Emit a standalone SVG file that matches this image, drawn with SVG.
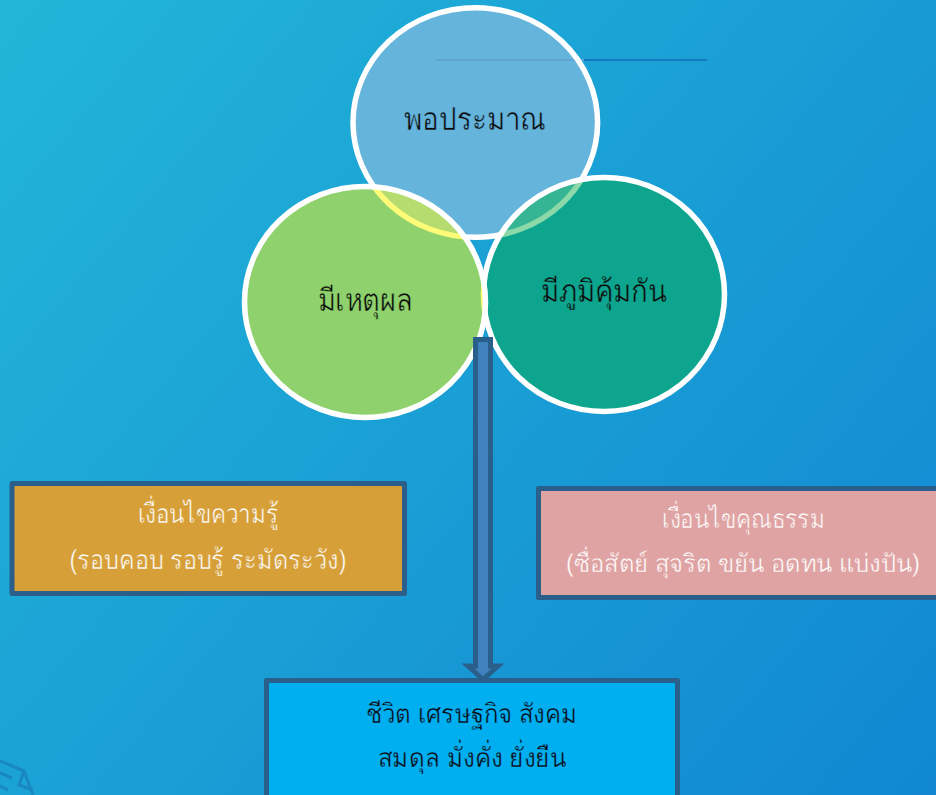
<svg xmlns="http://www.w3.org/2000/svg" width="936" height="795" viewBox="0 0 936 795">
<style>
.t{font-family:"Liberation Sans","Noto Sans",Tahoma,"DejaVu Sans",sans-serif;text-anchor:middle}
.d{fill:#0b0b0b;font-size:31px}
.w{fill:#fff;font-size:27px}
.k{fill:#0b0b0b;font-size:27px}
.box{stroke:#2a5f8c;stroke-width:5;stroke-linejoin:round}
.ring{fill:none;stroke:#fff;stroke-width:5.500}
</style>
<defs>
<linearGradient id="bg" gradientUnits="userSpaceOnUse" x1="0" y1="0" x2="936" y2="795">
<stop offset="0" stop-color="#22b6d8"/><stop offset="1" stop-color="#1187d2"/>
</linearGradient>
<clipPath id="cl"><ellipse cx="365" cy="302" rx="120.500" ry="115.500"/></clipPath>
<clipPath id="cr"><ellipse cx="604" cy="294.500" rx="120.500" ry="117"/></clipPath>
</defs>
<rect width="936" height="795" fill="url(#bg)"/>
<path d="M-2 760L24 771L33 795M-2 772L12 778M-2 785L8 790M24 771L19 785L33 790" fill="none" stroke="#1a88c0" stroke-width="3"/>
<line x1="584" y1="60" x2="707" y2="60" stroke="#1479c0" stroke-width="2"/>
<g id="node-top">
<ellipse cx="475.300" cy="122.500" rx="122.300" ry="114.800" fill="#65b4dc"/>
<line x1="436" y1="60" x2="584" y2="60" stroke="#5ea5d6" stroke-width="2"/>
<ellipse class="ring" cx="475.300" cy="122.500" rx="122.300" ry="114.800"/>
<text class="t d" x="475" y="130" textLength="142" lengthAdjust="spacingAndGlyphs" stroke="#65b4dc" stroke-width=".5">พอประมาณ</text>
</g>
<g id="node-right">
<ellipse cx="604" cy="294.500" rx="120.500" ry="117" fill="#0ea58e"/>
<g clip-path="url(#cr)">
<ellipse cx="475.300" cy="122.500" rx="122.300" ry="114.800" fill="#35b594"/>
<ellipse cx="475.300" cy="122.500" rx="122.300" ry="114.800" fill="none" stroke="#8bd9a9" stroke-width="5.500"/>
</g>
<ellipse class="ring" cx="604" cy="294.500" rx="120.500" ry="117"/>
<text class="t d" x="604" y="302" textLength="126" lengthAdjust="spacingAndGlyphs" stroke="#0ea58e" stroke-width=".5">มีภูมิคุ้มกัน</text>
</g>
<g id="node-left">
<ellipse cx="365" cy="302" rx="120.500" ry="115.500" fill="#8fd26d"/>
<g clip-path="url(#cl)">
<ellipse cx="475.300" cy="122.500" rx="122.300" ry="114.800" fill="#b6dc70"/>
<ellipse cx="475.300" cy="122.500" rx="122.300" ry="114.800" fill="none" stroke="#fdfb78" stroke-width="5.500"/>
<ellipse cx="604" cy="294.500" rx="120.500" ry="117" fill="none" stroke="#fdfb78" stroke-width="5.500"/>
</g>
<ellipse class="ring" cx="365" cy="302" rx="120.500" ry="115.500"/>
<text class="t d" x="365" y="311" textLength="95" lengthAdjust="spacingAndGlyphs" stroke="#8fd26d" stroke-width=".5">มีเหตุผล</text>
</g>
<g id="node-knowledge">
<rect class="box" x="12" y="483.500" width="392.500" height="110" fill="#d79f37"/>
<text class="t w" x="208" y="523" textLength="141" lengthAdjust="spacingAndGlyphs" stroke="#d79f37" stroke-width=".5">เงื่อนไขความรู้</text>
<text class="t w" x="208" y="569" textLength="277" lengthAdjust="spacingAndGlyphs" stroke="#d79f37" stroke-width=".5">(รอบคอบ รอบรู้ ระมัดระวัง)</text>
</g>
<g id="node-virtue">
<rect class="box" x="538.500" y="488.500" width="402" height="109" fill="#dfa3a3"/>
<text class="t w" x="743.500" y="528" textLength="163" lengthAdjust="spacingAndGlyphs" stroke="#dfa3a3" stroke-width=".5">เงื่อนไขคุณธรรม</text>
<text class="t w" x="743" y="572" style="font-size:25px" textLength="354" lengthAdjust="spacingAndGlyphs" stroke="#dfa3a3" stroke-width=".4">(ซื่อสัตย์ สุจริต ขยัน อดทน แบ่งปัน)</text>
</g>
<g id="node-result">
<rect class="box" x="266.500" y="680.500" width="411" height="120" fill="#00aff0"/>
<text class="t k" x="471.500" y="723" textLength="211" lengthAdjust="spacingAndGlyphs" stroke="#00aff0" stroke-width=".4">ชีวิต เศรษฐกิจ สังคม</text>
<text class="t k" x="472" y="767" textLength="188" lengthAdjust="spacingAndGlyphs" stroke="#00aff0" stroke-width=".4">สมดุล มั่งคั่ง ยั่งยืน</text>
</g>
<g id="connectors">
<path d="M475.500 339.500H490.500V666H498L483 679.500L468 666H475.500Z" fill="#3f82bd" stroke="#2a5f8c" stroke-width="5"/>
</g>
</svg>
